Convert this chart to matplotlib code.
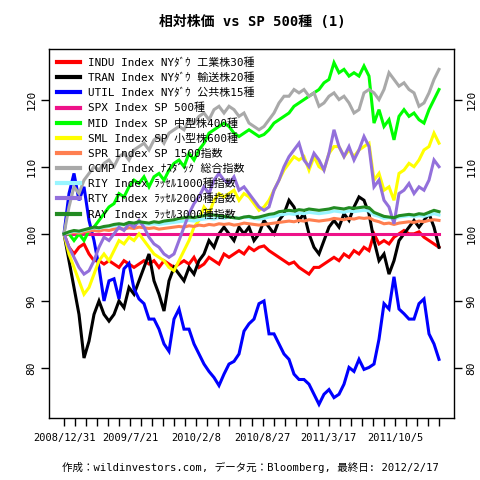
import numpy as np
import matplotlib
matplotlib.use("Agg")
import matplotlib.pyplot as plt

plt.rcParams['font.family'] = ['DejaVu Sans Mono', 'Noto Sans CJK JP']

title = "相対株価 vs SP 500種 (1)"
footer = "作成：wildinvestors.com, データ元：Bloomberg, 最終日: 2012/2/17"
date_labels = ["2008/12/31", "2009/7/21", "2010/2/8", "2010/8/27", "2011/3/17", "2011/10/5"]
n_days = 783          # trading days in the window
tick_every = 23       # days between small ticks
label_every = 138     # days between date labels

names = ["INDU Index NYﾀﾞｳ 工業株30種", "TRAN Index NYﾀﾞｳ 輸送株20種", "UTIL Index NYﾀﾞｳ 公共株15種",
         "SPX Index SP 500種", "MID Index SP 中型株400種", "SML Index SP 小型株600種",
         "SPR Index SP 1500指数", "CCMP Index ﾅｽﾀﾞｯｸ 総合指数", "RIY Index ﾗｯｾﾙ1000種指数",
         "RTY Index ﾗｯｾﾙ2000種指数", "RAY Index ﾗｯｾﾙ3000種指数"]
colors = ["#FF0000", "#000000", "#0000FF", "#EE1289", "#00FF00", "#FFFF00",
          "#FF7F50", "#A9A9A9", "#98F5FF", "#9370DB", "#228B22"]

indu = [100, 98, 97, 98, 98.5, 97, 96, 96, 95.5, 96, 95.5, 95, 96, 95.5, 95, 95.5, 96, 95.5, 96, 95,
        96, 95.5, 95, 95.5, 96, 95.5, 96.5, 95, 95.5, 96.5, 96, 95.5, 97, 96.5, 97, 97.5, 97, 98, 97.5, 98,
        98.2, 97.5, 97, 96.5, 96, 95.5, 95.8, 95, 94.5, 94, 95, 95, 95.5, 96, 96.5, 96, 97, 96.5, 97.5, 97,
        98, 97.5, 100, 98.5, 99, 98.5, 99.5, 100, 100.5, 100, 100, 100.3, 99.5, 99, 98.5, 98]
tran = [100, 96, 92, 88, 81.5, 84, 88, 90, 88, 87, 88, 90, 89, 92, 91, 93, 95, 97, 93, 91,
        88.5, 93, 95, 94, 93, 95, 94, 96, 97, 99, 98, 100, 101, 100, 99, 101, 100, 101, 99, 100,
        102, 101, 100, 102, 103, 105, 104, 102, 103, 100, 98, 97, 99, 101, 102, 101, 103, 102, 104, 105.5,
        105, 103, 99, 96, 97, 94, 96, 99, 100, 101, 102, 101, 102, 103, 101, 98]
util = [100, 106, 109, 105, 107, 102, 99, 95, 90, 93, 93.3, 90.3, 94.8, 95.6, 91.8, 90.3, 89.6, 87.3, 87.3, 85.8,
        83.6, 82.5, 87.3, 88.8, 85.8, 85.8, 83.6, 82.1, 80.6, 79.5, 78.6, 77.4, 79.1, 80.6, 81.0, 82.1, 85.5, 86.6, 87.3, 89.6,
        90, 85.1, 85.1, 83.6, 82.1, 81.3, 79.1, 78.3, 78.3, 77.6, 76.1, 74.6, 76.1, 76.8, 75.6, 76.1, 77.6, 80.1, 79.5, 81.3,
        79.8, 80.1, 80.6, 84.3, 89.6, 88.8, 93.6, 88.8, 88.1, 87.3, 87.3, 89.6, 90.3, 85.1, 83.6, 81.3]
spx = [100] * 76
mid = [100, 100, 99, 100, 99, 100.5, 101, 102, 103, 104, 104.5, 106, 105.5, 107, 108, 107.5, 108.5, 107, 108.5, 109,
       108, 109.5, 110.5, 111, 110, 112, 111, 112.5, 113.5, 115, 115.5, 116, 116.5, 116, 115, 114.5, 115, 115.5, 115, 114.5,
       114.8, 115.5, 116.5, 117, 117.5, 118, 119, 119.5, 120, 120.5, 121, 121.5, 122.5, 123, 125.5, 124, 124.5, 123.5, 124, 123.5,
       125, 123.5, 116.5, 118.5, 116, 117, 114, 117.5, 118.5, 117.5, 118, 117, 116.5, 118.5, 120, 121.5]
sml = [100, 97, 95, 93, 91, 92, 94, 96, 97, 96, 97.5, 99, 98.5, 99.5, 99, 100, 99, 98, 97, 96.5,
       96, 95, 94.5, 96, 97.5, 99, 101, 102, 104, 103, 105, 106, 105.5, 106, 106.5, 105, 106, 105.5, 104.5, 103.5,
       104, 105, 106.5, 108, 109.5, 110.5, 111.5, 111, 111.5, 109.5, 111.5, 110, 109.5, 112, 113, 113, 111.5, 112.5, 111.5, 112.5,
       113, 113.5, 108, 109, 106.5, 107, 105, 109, 109.5, 110.5, 110, 111, 112.5, 113, 115, 113.5]
spr = [100, 100.1, 100.2, 100.1, 100.3, 100.4, 100.5, 100.4, 100.6, 100.5, 100.7, 100.8, 100.7, 100.9, 100.8, 101, 100.9, 100.8, 100.9, 100.7,
       100.8, 100.9, 101, 101.1, 101, 101.2, 101.1, 101.3, 101.2, 101.4, 101.3, 101.5, 101.4, 101.5, 101.3, 101.4, 101.6, 101.5, 101.4, 101.3,
       101.4, 101.5, 101.6, 101.7, 101.8, 101.9, 101.8, 102, 101.9, 102.1, 102, 101.9, 102, 102.1, 102.3, 102.2, 102.1, 102.3, 102.2, 102.4,
       102.3, 102.4, 102.0, 101.8, 101.5, 101.6, 101.4, 101.6, 101.7, 101.8, 101.7, 101.9, 101.8, 102, 102.1, 102]
ccmp = [100, 104, 107, 106, 108, 109, 110, 109.5, 110.5, 111, 110, 111.5, 112, 111, 112.5, 113, 113.5, 112.5, 114, 114.5,
        113.5, 115, 115.5, 116, 115.5, 117, 116.5, 117.5, 118, 117, 118.5, 119, 118, 119, 118.5, 117.5, 118, 116.5, 116, 115.5,
        116, 117, 118, 119.5, 120.5, 120.5, 121.5, 121, 121.5, 120.5, 121, 119, 119.5, 120.5, 121, 120, 120.5, 119.5, 118, 118.5,
        121, 121.5, 121, 120, 121.5, 124, 123, 122, 122.5, 121.5, 121, 119, 119.5, 121, 123, 124.5]
riy = [100, 100.2, 100.4, 100.3, 100.5, 100.7, 100.9, 100.8, 101, 101.1, 101.2, 101.4, 101.3, 101.5, 101.4, 101.6, 101.5, 101.4, 101.5, 101.4,
       101.5, 101.6, 101.7, 101.8, 101.9, 102, 101.9, 102.1, 102.2, 102.3, 102.2, 102.4, 102.3, 102.5, 102.4, 102.3, 102.5, 102.4, 102.3, 102.2,
       102.3, 102.5, 102.6, 102.8, 102.9, 103, 102.9, 103.1, 103, 103.2, 103.1, 103, 103.1, 103.2, 103.4, 103.3, 103.2, 103.4, 103.3, 103.4,
       103.5, 103.4, 102.8, 102.6, 102.3, 102.4, 102.2, 102.5, 102.6, 102.7, 102.6, 102.7, 102.6, 102.8, 103, 102.8]
rty = [100, 98, 96.5, 95, 94, 94.5, 96, 98, 99.5, 99, 100, 101, 100.5, 101.5, 101, 102, 101, 99.5, 98.5, 98,
       97, 96.5, 97, 99, 101, 103, 104.5, 105.5, 107, 106, 108, 109, 108, 107.5, 108.5, 106.5, 107, 106, 105, 104,
       103.5, 104, 106.5, 108, 110, 111.5, 112.5, 113.5, 111, 110, 112, 111, 109.5, 112, 115.5, 113, 111.5, 113, 111, 112.5,
       114.5, 113, 107, 108, 105, 104, 101.5, 106, 106.5, 107.5, 106, 107, 106.5, 108, 111, 110]
ray = [100, 100.3, 100.5, 100.4, 100.6, 100.8, 101, 100.9, 101.1, 101.2, 101.4, 101.5, 101.4, 101.7, 101.6, 101.8, 101.7, 101.6, 101.8, 101.7,
       101.9, 102, 102.1, 102.3, 102.4, 102.5, 102.4, 102.6, 102.7, 102.9, 102.8, 102.7, 102.6, 102.5, 102.4, 102.3, 102.5, 102.6, 102.4, 102.5,
       102.7, 102.9, 103, 103.3, 103.4, 103.5, 103.4, 103.6, 103.5, 103.7, 103.6, 103.5, 103.6, 103.7, 103.9, 103.8, 103.7, 103.9, 103.8, 103.9,
       104, 103.9, 103.2, 102.9, 102.6, 102.5, 102.4, 102.7, 102.8, 102.9, 102.8, 103, 102.9, 103.2, 103.5, 103.3]

series = [indu, tran, util, spx, mid, sml, spr, ccmp, riy, rty, ray]

fig = plt.figure(figsize=(4.8, 4.8), dpi=100)
ax = fig.add_axes([49 / 480, 1 - 418 / 480, 405 / 480, 369 / 480])

for vals, c, nm in zip(series, colors, names):
    x = np.linspace(0, n_days - 1, len(vals))
    ax.plot(x, vals, color=c, lw=2.2, label=nm, solid_joinstyle='miter')

allv = np.concatenate([np.asarray(s, float) for s in series])
lo, hi = allv.min(), allv.max()
r = hi - lo
ax.set_ylim(lo - 0.04 * r, hi + 0.04 * r)
ax.set_xlim(-0.04 * (n_days - 1), (n_days - 1) * 1.04)

ax.set_xticks(np.arange(0, n_days, tick_every), minor=True)
ax.set_xticks(np.arange(0, n_days, label_every))
ax.set_xticklabels(date_labels, fontsize=7.5)
ax.tick_params(axis='x', which='both', direction='out', length=6, width=1, pad=5)

ax.set_yticks([80, 90, 100, 110, 120])
ax.tick_params(axis='y', direction='out', length=6, width=1, right=True, labelright=True, labelsize=8, pad=3)
for t in ax.yaxis.get_major_ticks():
    t.label1.set_rotation(90)
    t.label1.set_va('center')
    t.label2.set_rotation(90)
    t.label2.set_va('center')

for s in ax.spines.values():
    s.set_linewidth(1)

leg = ax.legend(loc='upper left', bbox_to_anchor=(0, 1), borderaxespad=0, fontsize=7.9,
                fancybox=False, framealpha=0, edgecolor='black', handlelength=2.1,
                handletextpad=0.7, labelspacing=0.43, borderpad=0.75)
leg.get_frame().set_linewidth(1)
leg.get_frame().set_facecolor('none')
for h in leg.get_lines():
    h.set_linewidth(3)

fig.text(252 / 480, 1 - 22 / 480, title, ha='center', va='center', fontsize=10, fontweight='bold')
fig.text(250 / 480, 1 - 467 / 480, footer, ha='center', va='center', fontsize=7.6)

fig.savefig("out.png", dpi=100)
